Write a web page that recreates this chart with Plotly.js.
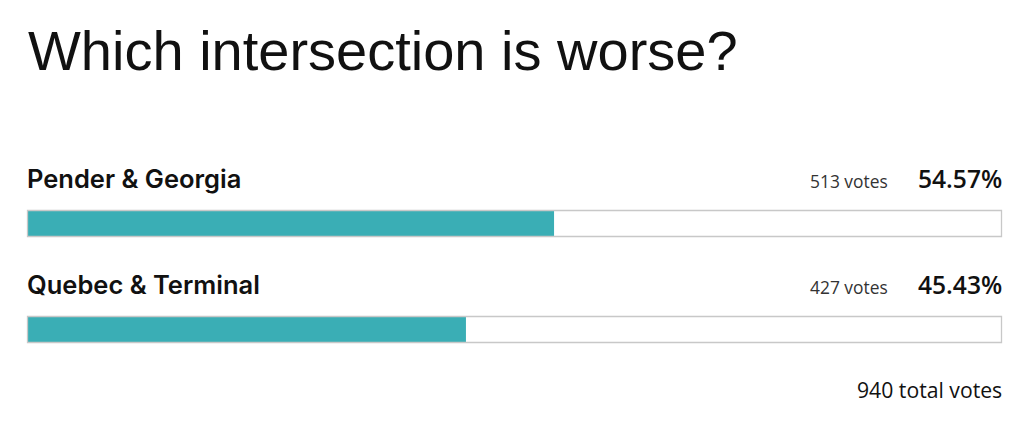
<!DOCTYPE html>
<html>
<head>
<meta charset="utf-8">
<script src="https://cdn.plot.ly/plotly-3.0.1.min.js"></script>
<style>html,body{margin:0;padding:0;background:#fff;}#chart{width:1024px;height:443px;}</style>
</head>
<body>
<div id="chart"></div>
<script>
const title = "Which intersection is worse?";
const options = ["Pender & Georgia", "Quebec & Terminal"];
const votes = [513, 427];
const percents = [54.57, 45.43];
const totalVotes = 940;

const W = 1024, H = 443;
const px = v => v / W;
const py = v => 1 - v / H;

const rowCenters = [223.5, 329.5]; // pixel centres of bars
const unit = rowCenters[1] - rowCenters[0];
const yTop = -rowCenters[0] / unit;
const yBot = yTop + H / unit;

const trace = {
  type: 'bar',
  orientation: 'h',
  x: percents,
  y: options,
  width: 25 / unit,
  marker: {color: '#3aaeb5', line: {width: 0}},
  hoverinfo: 'none',
  showlegend: false
};

const shapes = options.map((o, i) => ({
  type: 'rect', xref: 'paper', yref: 'y',
  x0: px(27.5), x1: px(1001.5),
  y0: i - 13 / unit, y1: i + 13 / unit,
  line: {color: '#c8c8c8', width: 1.3},
  fillcolor: 'rgba(0,0,0,0)',
  layer: 'above'
}));

const annotations = [];
annotations.push({
  text: title, xref: 'paper', yref: 'paper', x: px(26), y: py(51),
  xanchor: 'left', yanchor: 'middle', showarrow: false,
  font: {family: 'Liberation Sans, Arial, sans-serif', size: 56, color: '#111'}
});
options.forEach((o, i) => {
  const labelY = rowCenters[i] - 45;
  annotations.push({
    text: o, xref: 'paper', yref: 'paper', x: px(25), y: py(labelY),
    xanchor: 'left', yanchor: 'middle', showarrow: false,
    font: {family: 'Inter, Roboto, sans-serif', size: 25.5, weight: 600, color: '#111'}
  });
  annotations.push({
    text: votes[i] + ' votes', xref: 'paper', yref: 'paper', x: px(890), y: py(labelY + 2),
    xanchor: 'right', yanchor: 'middle', showarrow: false,
    font: {family: 'Open Sans, Noto Sans, sans-serif', size: 17.4, color: '#333'}
  });
  annotations.push({
    text: percents[i].toFixed(2) + '%', xref: 'paper', yref: 'paper', x: px(1004), y: py(labelY),
    xanchor: 'right', yanchor: 'middle', showarrow: false,
    font: {family: 'Open Sans, Noto Sans, sans-serif', size: 24.6, weight: 600, color: '#111'}
  });
});
annotations.push({
  text: totalVotes + ' total votes', xref: 'paper', yref: 'paper', x: px(1004), y: py(389),
  xanchor: 'right', yanchor: 'middle', showarrow: false,
  font: {family: 'Open Sans, Noto Sans, sans-serif', size: 21.2, color: '#111'}
});

const layout = {
  width: W, height: H,
  margin: {l: 0, r: 0, t: 0, b: 0, pad: 0},
  paper_bgcolor: '#fff', plot_bgcolor: '#fff',
  xaxis: {domain: [px(28), px(992)], range: [0, 100], visible: false, fixedrange: true},
  yaxis: {domain: [0, 1], range: [yBot, yTop], visible: false, fixedrange: true, type: 'category'},
  shapes: shapes,
  annotations: annotations,
  showlegend: false
};

Plotly.newPlot('chart', [trace], layout, {staticPlot: true, displayModeBar: false});
</script>
</body>
</html>
